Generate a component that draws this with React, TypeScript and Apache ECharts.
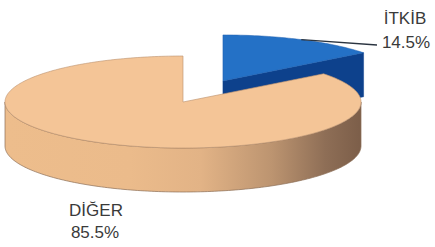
import React, { useEffect, useRef } from "react";
import * as echarts from "echarts";

const categories = ["İTKİB", "DİĞER"];
const values = [14.5, 85.5];
const percentLabels = ["14.5%", "85.5%"];

export default function App() {
  const ref = useRef<HTMLDivElement>(null);

  useEffect(() => {
    if (!ref.current) return;
    const chart = echarts.init(ref.current, undefined, { renderer: "svg" });

    const cx = 183;
    const cy = 102;
    const rx = 178;
    const ry = 46;
    const depth = 44;
    const explodeK = [0.51, 0];
    const topColors = ["#2471C6", "#F4C597"];
    const cutColors = ["#0D418C", "#D9A679"];
    const labelPos = [
      { name: [405, 18], pct: [406, 42] },
      { name: [96, 210], pct: [95, 232] },
    ];
    const leaderEnd = [377, 45];
    const total = values.reduce((a, b) => a + b, 0);

    const renderItem = (params: any, api: any) => {
      const i = params.dataIndex;
      let start = 0;
      for (let j = 0; j < i; j++) start += values[j];
      const v = api.value(0);
      const a0 = (start / total) * Math.PI * 2;
      const a1 = ((start + v) / total) * Math.PI * 2;
      const mid = (a0 + a1) / 2;
      const k = explodeK[i];
      const ox = cx + Math.sin(mid) * rx * k;
      const oy = cy - Math.cos(mid) * ry * k;
      const pt = (t: number, dz = 0) => [ox + rx * Math.sin(t), oy - ry * Math.cos(t) + dz];
      const arc = (t0: number, t1: number, dz = 0) => {
        const n = Math.max(2, Math.ceil(Math.abs(t1 - t0) / 0.02));
        const pts: number[][] = [];
        for (let s = 0; s <= n; s++) pts.push(pt(t0 + ((t1 - t0) * s) / n, dz));
        return pts;
      };
      const children: any[] = [];
      const apex = [ox, oy];
      const apexD = [ox, oy + depth];

      // cut faces
      if (Math.sin(a1) > 1e-6) {
        const r = pt(a1);
        const rd = pt(a1, depth);
        children.push({
          type: "polygon",
          shape: { points: [apex, r, rd, apexD] },
          style: { fill: cutColors[i], stroke: cutColors[i], lineWidth: 0.5 },
        });
      }
      if (Math.sin(a0) < -1e-6) {
        const r = pt(a0);
        const rd = pt(a0, depth);
        children.push({
          type: "polygon",
          shape: { points: [apex, r, rd, apexD] },
          style: { fill: cutColors[i] },
        });
      }
      // outer side
      const s0 = Math.max(a0, Math.PI / 2);
      const s1 = Math.min(a1, (Math.PI * 3) / 2);
      if (s1 > s0) {
        const pts = arc(s0, s1).concat(arc(s1, s0, depth));
        const fill =
          i === 1
            ? new echarts.graphic.LinearGradient(0, 0, 1, 0, [
                { offset: 0, color: "#EDBD8C" },
                { offset: 0.35, color: "#EBBB8B" },
                { offset: 0.55, color: "#E2B386" },
                { offset: 0.75, color: "#BC9470" },
                { offset: 0.9, color: "#8E6E56" },
                { offset: 1, color: "#7C5E49" },
              ])
            : cutColors[i];
        children.push({
          type: "polygon",
          shape: { points: pts },
          style: { fill, stroke: "rgba(140,110,85,0.7)", lineWidth: 1 },
        });
      }
      // top face
      children.push({
        type: "polygon",
        shape: { points: [apex].concat(arc(a0, a1)) },
        style: {
          fill: topColors[i],
          stroke: i === 1 ? "rgba(190,150,115,0.8)" : "#1E5FAE",
          lineWidth: i === 1 ? 0.8 : 0.5,
        },
      });

      // leader line
      if (i === 0) {
        const m = pt(mid);
        children.push({
          type: "line",
          shape: { x1: m[0], y1: m[1], x2: leaderEnd[0], y2: leaderEnd[1] },
          style: { stroke: "#2a3440", lineWidth: 1.4 },
        });
      }
      // labels
      const lp = labelPos[i];
      children.push({
        type: "text",
        x: lp.name[0],
        y: lp.name[1],
        style: {
          text: categories[i],
          fill: "#3a3a3a",
          font: '17px "Liberation Sans", Arial, sans-serif',
          align: "center",
          verticalAlign: "middle",
        },
      });
      children.push({
        type: "text",
        x: lp.pct[0],
        y: lp.pct[1],
        style: {
          text: percentLabels[i],
          fill: "#3a3a3a",
          font: '17px "Liberation Sans", Arial, sans-serif',
          align: "center",
          verticalAlign: "middle",
        },
      });
      return { type: "group", children };
    };

    chart.setOption({
      animation: false,
      backgroundColor: "#ffffff",
      series: [
        {
          type: "custom",
          coordinateSystem: "none",
          renderItem,
          data: values.map((v, i) => ({ name: categories[i], value: [v] })),
        },
      ],
    });

    return () => chart.dispose();
  }, []);

  return (
    <div
      ref={ref}
      style={{ position: "fixed", left: 0, top: 0, width: 435, height: 247 }}
    />
  );
}
